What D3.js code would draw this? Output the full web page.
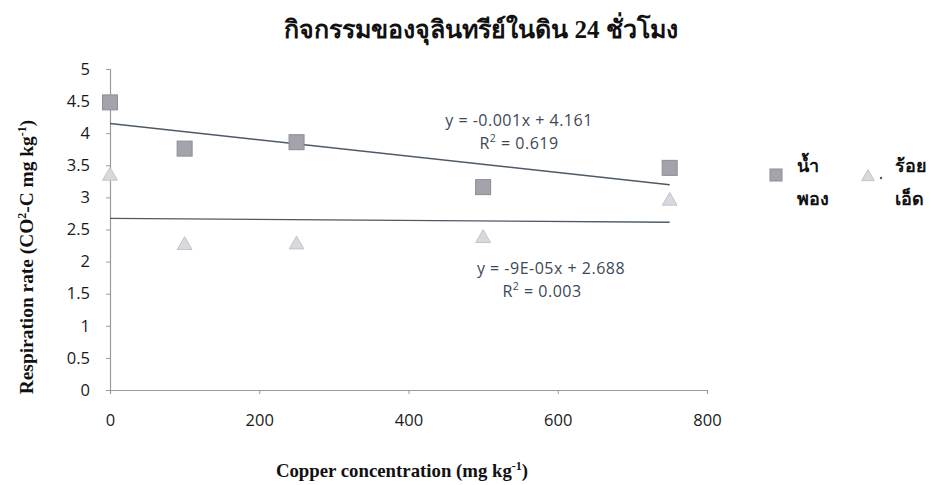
<!DOCTYPE html>
<html>
<head>
<meta charset="utf-8">
<script src="https://cdn.jsdelivr.net/npm/d3@7"></script>
<style>
  html, body { margin: 0; padding: 0; background: #fff; }
  svg { display: block; }
</style>
</head>
<body>
<svg id="chart" width="931" height="485"></svg>
<script>
// Copper concentration levels (mg/kg)
const copper = [0, 100, 250, 500, 750];
// Respiration rate, series 1 (squares)
const seriesA = [4.48, 3.76, 3.86, 3.16, 3.46];
// Respiration rate, series 2 (triangles)
const seriesB = [3.35, 2.27, 2.28, 2.38, 2.96];
const seriesNames = [["น้ำ", "พอง"], ["ร้อย", "เอ็ด"]];
const yTicks = [0, 0.5, 1, 1.5, 2, 2.5, 3, 3.5, 4, 4.5, 5];
const xTicks = [0, 200, 400, 600, 800];
// Trend line labels
const trendA = { eq: "y = -0.001x + 4.161", r2: "0.619" };
const trendB = { eq: "y = -9E-05x + 2.688", r2: "0.003" };

const svg = d3.select("#chart");
const x = d3.scaleLinear().domain([0, 800]).range([110, 707]);
const y = d3.scaleLinear().domain([0, 5]).range([390, 69]);

// least-squares fit for the trend lines
function fit(xs, ys) {
  const mx = d3.mean(xs), my = d3.mean(ys);
  let sxy = 0, sxx = 0;
  xs.forEach((v, i) => { sxy += (v - mx) * (ys[i] - my); sxx += (v - mx) * (v - mx); });
  const b = sxy / sxx;
  return { b, a: my - b * mx };
}

// axes
const axisColor = "#9a9a9a";
const yAxis = svg.append("g").attr("transform", `translate(${x(0)},0)`)
  .call(d3.axisLeft(y).tickValues(yTicks).tickSize(4).tickFormat(d => d));
const xAxis = svg.append("g").attr("transform", `translate(0,${y(0)})`)
  .call(d3.axisBottom(x).tickValues(xTicks).tickSize(4).tickFormat(d => d));
[yAxis, xAxis].forEach(g => {
  g.select(".domain").attr("stroke", axisColor).attr("stroke-width", 1.2);
  g.selectAll(".tick line").attr("stroke", axisColor);
  g.selectAll(".tick text").attr("fill", "#1a1a1a")
    .style("font-family", "'Open Sans', sans-serif").style("font-size", "16.5px");
});
yAxis.selectAll(".tick text").attr("x", -20);
xAxis.selectAll(".tick text").attr("y", 24);

// trend lines
[seriesA, seriesB].forEach(ys => {
  const f = fit(copper, ys);
  svg.append("line")
    .attr("x1", x(0)).attr("y1", y(f.a))
    .attr("x2", x(750)).attr("y2", y(f.a + f.b * 750))
    .attr("stroke", "#4d5a66").attr("stroke-width", 1.4);
});

// markers
const sq = 15;
svg.append("g").selectAll("rect").data(copper).join("rect")
  .attr("x", d => x(d) - sq / 2)
  .attr("y", (d, i) => y(seriesA[i]) - sq / 2)
  .attr("width", sq).attr("height", sq)
  .attr("fill", "#a3a3ab").attr("stroke", "#8d8d96").attr("stroke-width", 1);

const tri = d3.symbol().type(d3.symbolTriangle).size(95);
svg.append("g").selectAll("path").data(copper).join("path")
  .attr("d", tri)
  .attr("transform", (d, i) => `translate(${x(d)},${y(seriesB[i]) + 1})`)
  .attr("fill", "#d8d8de").attr("stroke", "#c4c4cc").attr("stroke-width", 1);

// equation labels
const eqFont = "'Open Sans', sans-serif";
function eqLabel(t, cx, cy, rx) {
  const g = svg.append("g").attr("fill", "#3c4856")
    .style("font-family", eqFont).style("font-size", "16px")
    .style("letter-spacing", "0.5px");
  g.append("text").attr("x", cx).attr("y", cy).attr("text-anchor", "middle").text(t.eq);
  const r = g.append("text").attr("x", rx).attr("y", cy + 23).attr("text-anchor", "middle");
  r.append("tspan").text("R");
  r.append("tspan").attr("dy", -7).style("font-size", "10.5px").text("2");
  r.append("tspan").attr("dy", 7).text(" = " + t.r2);
}
eqLabel(trendA, 519, 126, 519);
eqLabel(trendB, 551, 274, 542);

// title
svg.append("text").attr("x", 481).attr("y", 38).attr("text-anchor", "middle")
  .style("font-family", "'Liberation Serif', serif").style("font-weight", "bold")
  .style("font-size", "25px").attr("fill", "#111")
  .text("กิจกรรมของจุลินทรีย์ในดิน 24 ชั่วโมง");

// axis titles
const yt = svg.append("text")
  .attr("transform", "translate(33,257) rotate(-90)")
  .attr("text-anchor", "middle")
  .style("font-family", "'Liberation Serif', serif").style("font-weight", "bold")
  .style("font-size", "19.4px").attr("fill", "#111");
yt.append("tspan").text("Respiration rate (CO");
yt.append("tspan").attr("dy", -7).style("font-size", "12px").text("2");
yt.append("tspan").attr("dy", 7).text("-C mg kg");
yt.append("tspan").attr("dy", -7).style("font-size", "12px").text("-1");
yt.append("tspan").attr("dy", 7).text(")");

const xt = svg.append("text").attr("x", 402).attr("y", 477).attr("text-anchor", "middle")
  .style("font-family", "'Liberation Serif', serif").style("font-weight", "bold")
  .style("font-size", "18.8px").attr("fill", "#111");
xt.append("tspan").text("Copper concentration (mg kg");
xt.append("tspan").attr("dy", -7).style("font-size", "12px").text("-1");
xt.append("tspan").attr("dy", 7).text(")");

// legend
const lg = svg.append("g").style("font-family", "'Liberation Serif', serif")
  .style("font-weight", "bold").style("font-size", "18px").attr("fill", "#111");
lg.append("rect").attr("x", 770).attr("y", 169).attr("width", 12).attr("height", 12)
  .attr("fill", "#a3a3ab").attr("stroke", "#8d8d96");
lg.append("path").attr("d", d3.symbol().type(d3.symbolTriangle).size(70))
  .attr("transform", "translate(868,177)").attr("fill", "#d8d8de").attr("stroke", "#c4c4cc");
lg.append("circle").attr("cx", 881).attr("cy", 178).attr("r", 1.2).attr("fill", "#555");
[[797, seriesNames[0]], [895, seriesNames[1]]].forEach(([lx, lines]) => {
  lines.forEach((s, i) => {
    lg.append("text").attr("x", lx).attr("y", 172 + i * 33).text(s);
  });
});
</script>
</body>
</html>
